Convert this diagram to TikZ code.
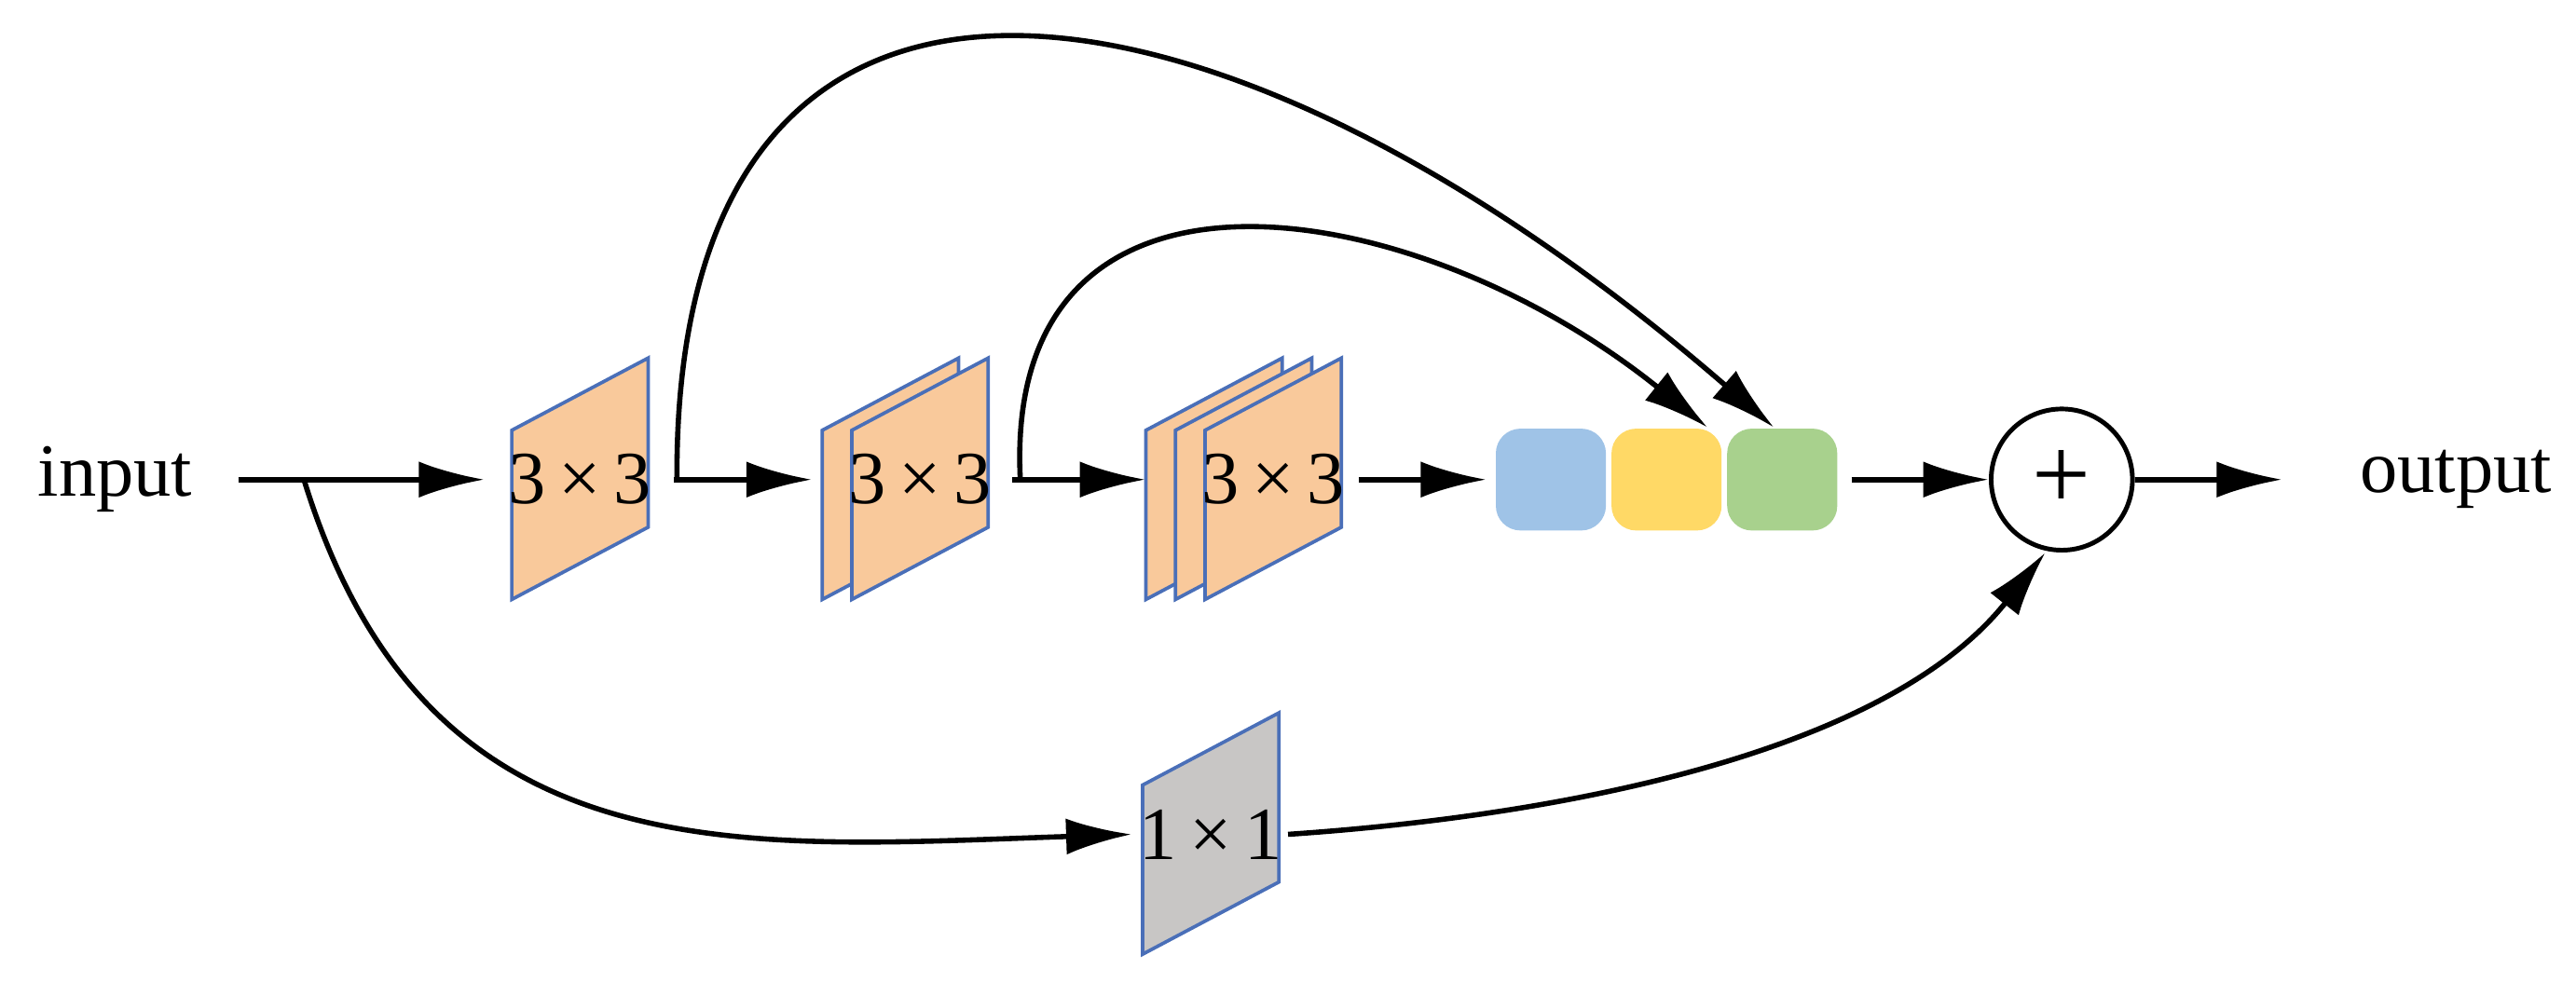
\documentclass[tikz,border=0pt]{standalone}
\usepackage{fontspec}
\setmainfont{Liberation Serif}
\usetikzlibrary{arrows.meta,positioning}
\definecolor{sheetfill}{HTML}{F9C99B}
\definecolor{sheetline}{HTML}{4A6FB8}
\definecolor{onegray}{HTML}{C8C6C5}
\definecolor{catblue}{HTML}{9FC3E7}
\definecolor{catyellow}{HTML}{FFD966}
\definecolor{catgreen}{HTML}{A8D18D}
\tikzset{
  flow/.style={line width=0.9pt, -{Latex[length=4mm,width=2.2mm]}},
  sheet/.style={draw=sheetline, line width=0.6pt},
  conv/.style={minimum width=0.83cm, minimum height=0.6cm, inner sep=0pt, font=\fontsize{13}{13}\selectfont},
  cat/.style={rounded corners=1.5mm, minimum width=0.67cm, minimum height=0.62cm, inner sep=0pt},
  word/.style={font=\fontsize{13}{13}\selectfont}
}
% parallelogram sheet centred at (#1)
\newcommand{\sheetat}[2]{%
  \draw[sheet, fill=#2] ([shift={(-0.415,-0.73)}]#1) -- ++(0,1.03) -- ++(0.83,0.44) -- ++(0,-1.03) -- cycle;}
\begin{document}
\begin{tikzpicture}
\useasboundingbox (0,0) rectangle (15.68,6.06);

% labels
\node[word] (in) at (0.70,3.14) {input};
\node[word] (out) at (14.95,3.14) {output};
\coordinate (split) at (1.85,3.14);

% sheets
\sheetat{3.53,3.14}{sheetfill}
\sheetat{5.42,3.14}{sheetfill}
\sheetat{5.60,3.14}{sheetfill}
\sheetat{7.39,3.14}{sheetfill}
\sheetat{7.57,3.14}{sheetfill}
\sheetat{7.75,3.14}{sheetfill}
\sheetat{7.37,0.98}{onegray}

\node[conv] (b1) at (3.53,3.14) {3\,×\,3};
\node[conv] (b2) at (5.60,3.14) {3\,×\,3};
\node[conv] (b3) at (7.75,3.14) {3\,×\,3};
\node[conv] (c1) at (7.37,0.98) {1\,×\,1};
\node[inner sep=0pt, minimum size=0.1cm] (b2back) at (5.42,3.14) {};
\node[inner sep=0pt, minimum size=0.1cm] (b3back) at (7.39,3.14) {};

% concat
\node[cat, fill=catblue] (k1) at (9.44,3.14) {};
\node[cat, fill=catyellow, right=0.02cm of k1] (k2) {};
\node[cat, fill=catgreen, right=0.02cm of k2] (k3) {};

\node[draw, circle, line width=0.8pt, minimum size=0.86cm, inner sep=0pt, font=\fontsize{18}{18}\selectfont] (add) at (12.55,3.14) {+};

% main chain
\draw[flow] (1.45,3.14) -- ([xshift=-0.14cm]b1.west);
\draw[flow] ([xshift=0.13cm]b1.east) -- ([xshift=-0.42cm]b2back.west);
\draw[flow] ([xshift=0.12cm]b2.east) -- ([xshift=-0.36cm]b3back.west);
\draw[flow] ([xshift=0.08cm]b3.east) -- ([xshift=-0.05cm]k1.west);
\draw[flow] ([xshift=0.08cm]k3.east) -- (add.west);
\draw[flow] (add.east) -- ([xshift=-0.35cm]out.west);

% skips
\draw[flow] ([xshift=0.15cm]b1.east) .. controls (4.10,6.90) and (7.40,6.40) .. ([xshift=-0.05cm]k3.north);
\draw[flow] ([xshift=0.17cm]b2.east) .. controls (6.10,5.30) and (8.60,4.90) .. ([xshift=0.25cm]k2.north);

% shortcut
\draw[flow] (split) .. controls (2.60,0.70) and (4.50,0.90) .. ([xshift=-0.04cm]c1.west);
\draw[flow] ([xshift=0.03cm]c1.east) .. controls (9.60,1.10) and (11.50,1.50) .. ([xshift=-0.1cm]add.south);
\end{tikzpicture}
\end{document}
